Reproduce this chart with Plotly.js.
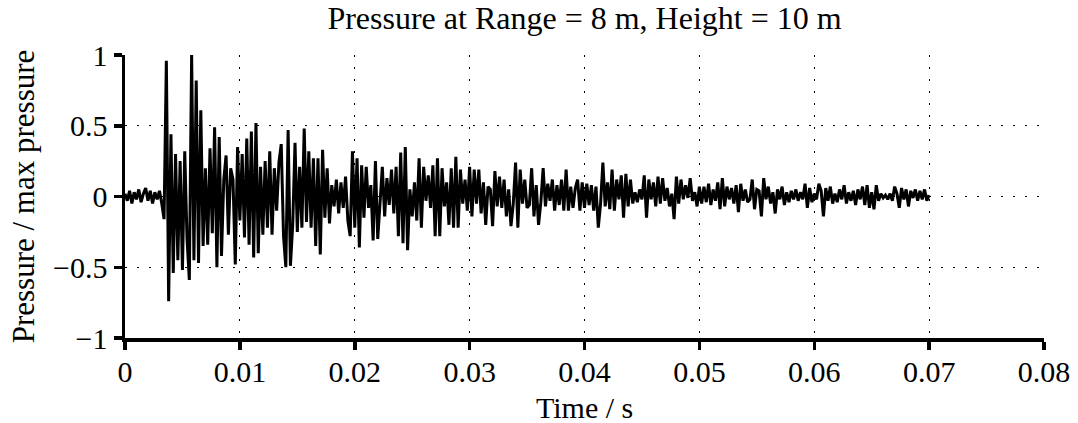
<!DOCTYPE html>
<html>
<head>
<meta charset="utf-8">
<script src="https://cdn.plot.ly/plotly-3.0.1.min.js"></script>
<style>html,body{margin:0;padding:0;background:#fff;}#chart{width:1078px;height:423px;}</style>
</head>
<body>
<div id="chart"></div>
<script>
// Sampling of the pressure trace (seconds between samples)
var sampleInterval = 0.0002;
// Normalised pressure samples
var pressure = [
 0.02,-0.03,0.04,-0.05,0.03,-0.02,0.05,-0.04,0.02,0.06,-0.03,0.04,-0.05,0.03,-0.02,0.04,
 -0.05,-0.16,0.96,-0.74,0.44,-0.54,0.30,-0.45,0.25,-0.52,0.32,-0.30,-0.59,1.00,
 -0.45,0.82,-0.47,0.61,-0.35,0.20,-0.34,0.34,-0.26,0.49,-0.50,0.42,-0.42,0.12,0.29,
 -0.27,0.20,0.12,-0.48,0.35,-0.17,0.30,-0.29,0.41,-0.34,0.46,-0.43,0.52,-0.40,0.21,
 -0.27,0.25,-0.22,0.32,-0.27,0.20,-0.10,0.24,0.37,-0.28,-0.50,0.47,-0.49,-0.20,0.38,
 -0.25,0.21,-0.22,0.48,-0.18,0.32,-0.22,0.27,-0.35,0.27,-0.41,0.33,-0.15,0.20,-0.19,
 0.08,-0.07,0.12,-0.12,0.10,-0.08,0.14,-0.17,-0.28,0.32,-0.22,0.27,-0.36,0.22,-0.15,
 0.21,-0.08,0.08,-0.31,0.25,-0.30,-0.05,0.21,-0.14,0.13,-0.06,0.19,-0.12,0.21,-0.28,
 0.31,-0.33,0.35,-0.38,0.05,-0.14,0.10,-0.17,0.27,-0.22,0.21,-0.03,0.15,-0.08,0.22,
 -0.28,0.27,-0.28,0.20,-0.07,0.10,-0.20,0.20,-0.22,0.28,-0.22,0.19,-0.05,0.12,-0.10,
 0.21,-0.14,0.19,-0.05,0.19,-0.12,0.10,-0.20,0.07,0.05,-0.21,0.18,-0.07,0.14,-0.08,
 0.12,-0.14,0.05,-0.21,-0.05,0.24,-0.22,0.19,-0.05,0.12,-0.08,-0.06,0.20,-0.14,0.08,
 -0.20,-0.04,0.20,-0.07,0.09,-0.03,0.12,-0.10,0.08,-0.06,0.12,-0.10,0.19,-0.10,0.07,
 -0.08,0.06,0.12,-0.10,0.10,-0.08,0.09,-0.06,0.08,-0.10,0.07,-0.22,-0.05,0.24,-0.07,
 0.10,-0.09,0.19,-0.10,0.12,-0.02,0.15,-0.15,0.16,-0.07,0.12,-0.05,0.03,-0.04,0.05,
 -0.02,0.15,-0.15,0.12,-0.02,0.10,-0.07,0.14,-0.05,0.13,-0.03,0.06,-0.07,0.02,-0.16,
 0.14,-0.05,0.12,-0.02,0.08,-0.01,0.13,-0.03,0.03,-0.07,0.07,-0.05,0.07,-0.04,0.09,
 -0.06,0.05,-0.03,0.10,-0.09,0.13,-0.07,0.07,-0.02,0.06,-0.05,0.08,-0.11,0.09,-0.03,
 0.05,-0.04,-0.02,0.12,-0.09,0.05,0.04,-0.14,0.13,-0.02,0.07,-0.05,0.03,-0.12,0.05,
 -0.02,0.07,-0.06,0.03,-0.04,0.04,-0.02,0.05,-0.03,0.03,-0.02,0.09,-0.08,0.06,-0.04,
 0.02,-0.02,0.09,0.04,-0.14,0.06,-0.03,0.07,-0.05,0.02,-0.04,0.05,-0.02,0.08,-0.05,
 0.03,-0.03,0.04,-0.06,0.05,-0.02,0.07,-0.06,0.08,-0.08,0.03,-0.09,0.08,-0.03,0.02,
 -0.01,0.01,-0.02,0.02,-0.03,0.07,0.02,-0.08,0.06,-0.02,0.05,-0.07,0.04,-0.01,0.05,
 -0.03,0.04,-0.02,0.05,-0.03,0.01
];
var xTickValues = [0, 0.01, 0.02, 0.03, 0.04, 0.05, 0.06, 0.07, 0.08];
var yTickValues = [-1, -0.5, 0, 0.5, 1];
var titleText = 'Pressure at Range = 8 m, Height = 10 m';
var xTitle = 'Time / s';
var yTitle = 'Pressure / max pressure';

var time = pressure.map(function(_, i){ return +(i * sampleInterval).toFixed(6); });

var fam = '"Liberation Serif", "Times New Roman", serif';
var font = {family: fam, size: 30, color: '#000'};
var titleFont = {family: fam, size: 32, color: '#000'};
var yTitleFont = {family: fam, size: 31, color: '#000'};

var trace = {
  x: time, y: pressure, type: 'scatter', mode: 'lines',
  line: {color: '#000', width: 3}, hoverinfo: 'skip'
};

var axisCommon = {
  showline: true, linecolor: '#000', linewidth: 3.5,
  ticks: 'outside', ticklen: 8, tickwidth: 3.5, tickcolor: '#000',
  showgrid: true, gridcolor: '#000', gridwidth: 1, griddash: '2px,10px',
  zeroline: false, mirror: false, tickfont: font
};

var layout = {
  width: 1078, height: 423,
  margin: {l: 125, r: 34, t: 55, b: 85},
  paper_bgcolor: '#fff', plot_bgcolor: '#fff',
  font: font,
  showlegend: false,
  title: {text: titleText, font: titleFont, x: 0.5, xref: 'paper', y: 0.957, yref: 'container', yanchor: 'middle'},
  xaxis: Object.assign({}, axisCommon, {
    range: [0, 0.08], tickvals: xTickValues, ticklabelstandoff: -4
  }),
  yaxis: Object.assign({}, axisCommon, {
    range: [-1, 1], tickvals: yTickValues,
    title: {text: yTitle, font: yTitleFont, standoff: 10}
  }),
  annotations: [{
    text: xTitle, font: font, showarrow: false,
    xref: 'paper', yref: 'paper', x: 0.5, y: -0.245,
    xanchor: 'center', yanchor: 'middle'
  }]
};

Plotly.newPlot('chart', [trace], layout, {staticPlot: true, displayModeBar: false});
</script>
</body>
</html>
